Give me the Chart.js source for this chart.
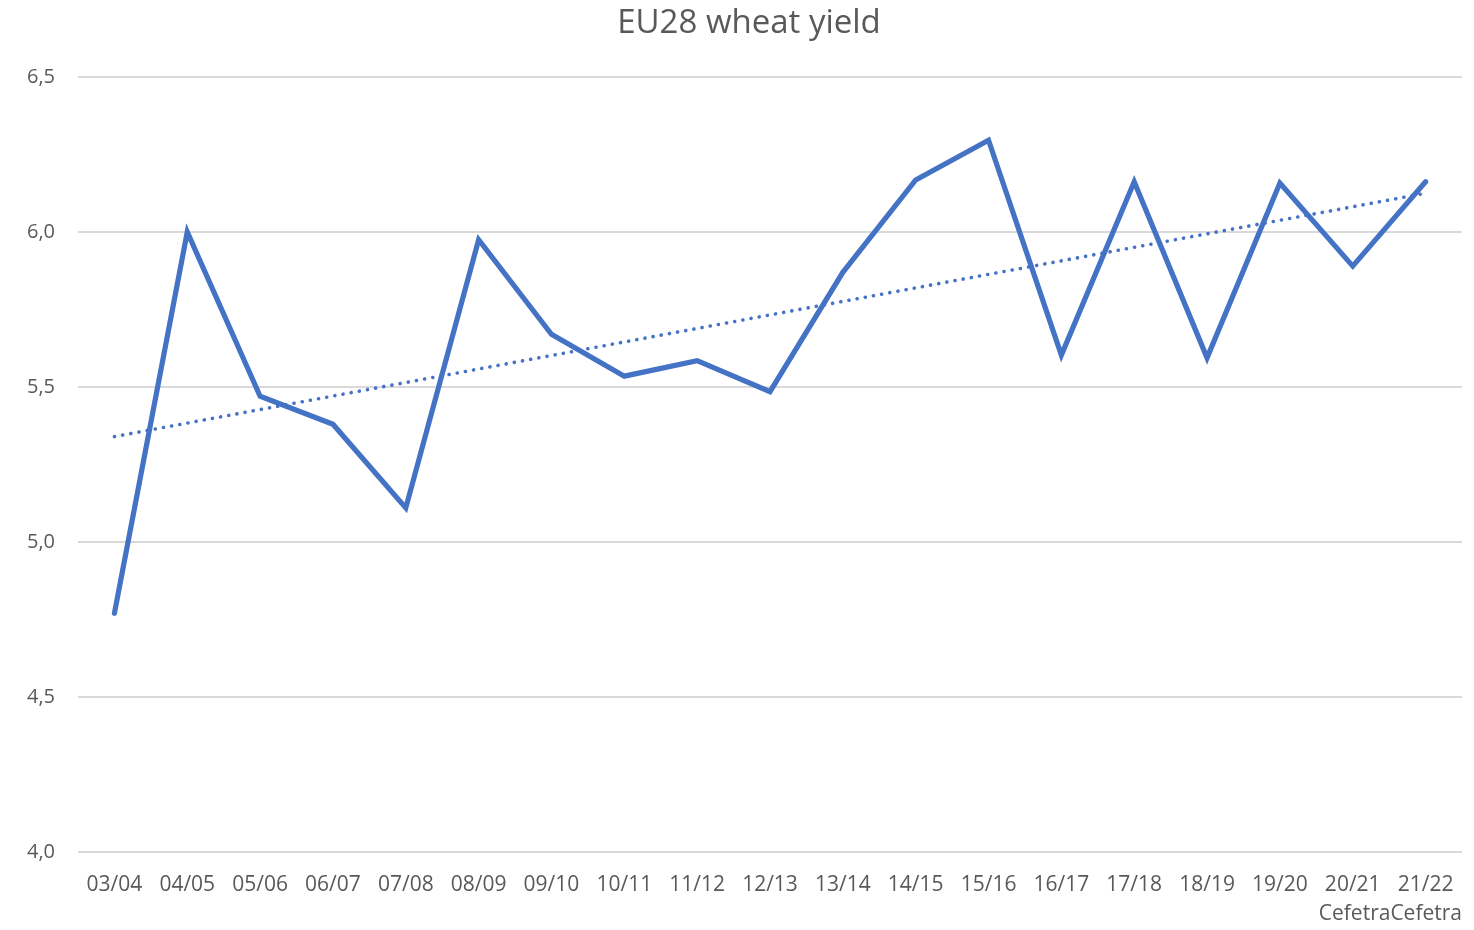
<!DOCTYPE html>
<html>
<head>
<meta charset="utf-8">
<script src="https://cdn.jsdelivr.net/npm/chart.js@4.4.0/dist/chart.umd.min.js"></script>
<style>
  html, body { margin: 0; padding: 0; background: #fff; }
  #wrap { width: 1474px; height: 930px; }
</style>
</head>
<body>
<div id="wrap"><canvas id="yieldChart"></canvas></div>
<script>
// Chart data
const seasons = ['03/04', '04/05', '05/06', '06/07', '07/08', '08/09', '09/10', '10/11', '11/12', '12/13',
    '13/14', '14/15', '15/16', '16/17', '17/18', '18/19', '19/20', '20/21', '21/22'];
const yieldValues = [4.77, 6.00, 5.47, 5.38, 5.11, 5.975, 5.67, 5.535, 5.585, 5.485,
    5.87, 6.168, 6.296, 5.603, 6.162, 5.594, 6.158, 5.89, 6.162];
const trendStart = 5.34;
const trendEnd = 6.125;
const yTicks = [4.0, 4.5, 5.0, 5.5, 6.0, 6.5];

const trendData = seasons.map((s, i) => i === 0 ? trendStart : (i === seasons.length - 1 ? trendEnd : null));

const TEXT_COLOR = '#595959';
const LINE_COLOR = '#4472C4';
const FONT = "'Open Sans', sans-serif";

const ctx = document.getElementById('yieldChart').getContext('2d');
const yieldChart = new Chart(ctx, {
    type: 'line',
    data: {
        labels: seasons,
        datasets: [{
            label: 'Yield',
            data: yieldValues,
            borderColor: LINE_COLOR,
            borderWidth: 5.2,
            pointRadius: 0,
            borderCapStyle: 'round',
            borderJoinStyle: 'miter',
            tension: 0
        }, {
            label: 'Trend',
            data: trendData,
            spanGaps: true,
            borderColor: LINE_COLOR,
            borderWidth: 3.6,
            borderDash: [0.1, 8.2],
            borderCapStyle: 'round',
            pointRadius: 0,
            tension: 0
        }]
    },
    options: {
        responsive: true,
        maintainAspectRatio: false,
        animation: false,
        // left padding keeps the title centred where the reference has it
        layout: { padding: { left: 24, right: 0, top: 0, bottom: 0 } },
        plugins: {
            legend: { display: false },
            tooltip: { enabled: false },
            title: {
                display: true,
                text: 'EU28 wheat yield',
                color: TEXT_COLOR,
                font: { family: FONT, size: 33, weight: 'normal', lineHeight: 1.2 },
                padding: { top: 4, bottom: 33.4 }
            }
        },
        scales: {
            x: {
                offset: true,
                grid: { display: false, drawTicks: false },
                border: { display: false },
                ticks: {
                    color: TEXT_COLOR,
                    font: { family: FONT, size: 21 },
                    padding: 20,
                    maxRotation: 0,
                    autoSkip: false
                },
                title: {
                    display: true,
                    text: 'CefetraCefetra',
                    align: 'end',
                    color: TEXT_COLOR,
                    font: { family: FONT, size: 21 },
                    padding: { top: 0, bottom: 3 }
                },
                afterFit: (axis) => { axis.height = 78; }
            },
            y: {
                min: 4,
                max: 6.5,
                afterBuildTicks: (axis) => { axis.ticks = yTicks.map(v => ({ value: v })); },
                grid: { color: '#d9d9d9', lineWidth: 2, drawTicks: false },
                border: { display: false },
                ticks: {
                    color: TEXT_COLOR,
                    font: { family: FONT, size: 20 },
                    padding: 23,
                    callback: (v) => Number(v).toFixed(1).replace('.', ',')
                },
                afterFit: (axis) => { axis.width = 54; }
            },
            // empty right axis, only reserves the right margin
            yRight: {
                position: 'right',
                min: 4,
                max: 6.5,
                grid: { display: false, drawTicks: false },
                border: { display: false },
                ticks: { display: false },
                afterFit: (axis) => { axis.width = 12; }
            }
        }
    }
});
</script>
</body>
</html>
